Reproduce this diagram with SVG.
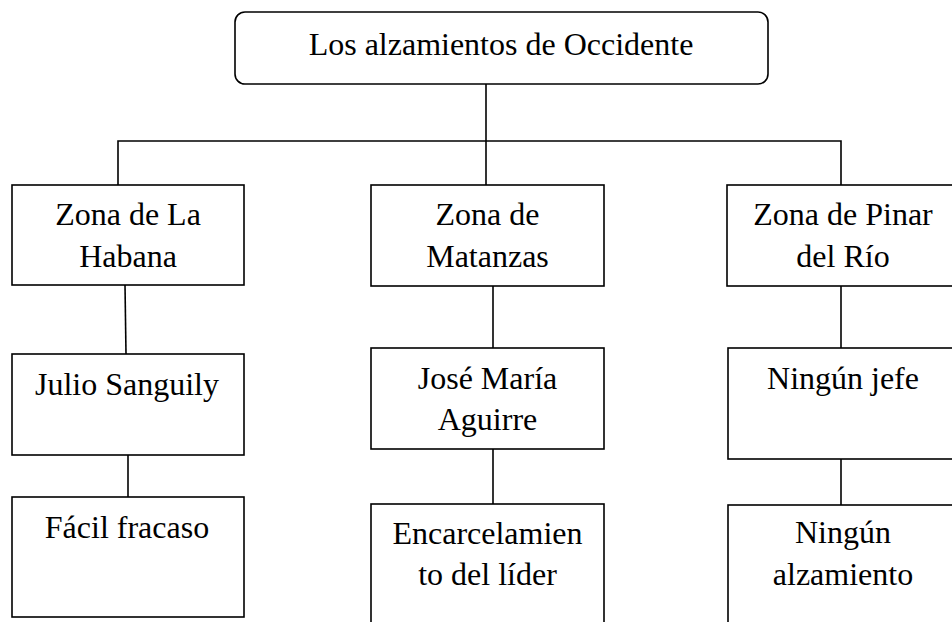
<svg xmlns="http://www.w3.org/2000/svg" width="952" height="622" viewBox="0 0 952 622">
<style>
.box{fill:#fff;stroke:#000;stroke-width:1.6}
.lbl{font-family:'Liberation Serif','Times New Roman',Tinos,'DejaVu Serif',serif;font-size:32px;fill:#000;text-anchor:middle}
.con{fill:none;stroke:#000;stroke-width:1.6}
</style>
<rect width="952" height="622" fill="#fff"/>
<g id="connectors">
<path class="con" d="M486 84V185"/>
<path class="con" d="M118 185V141H841V185"/>
<path class="con" d="M125 285L126 354"/>
<path class="con" d="M128 455V497"/>
<path class="con" d="M493 286V348"/>
<path class="con" d="M493 449V504"/>
<path class="con" d="M841 286V348"/>
<path class="con" d="M841 459V505"/>
</g>
<g font-family="Liberation Serif, Times New Roman, serif">
<g id="root">
<rect class="box" x="235" y="12" width="533" height="72" rx="10"/>
<text class="lbl" x="501" y="55">Los alzamientos de Occidente</text>
</g>
<g id="habana">
<rect class="box" x="12" y="185" width="232" height="100"/>
<text class="lbl" x="128" y="225">Zona de La</text>
<text class="lbl" x="128" y="267">Habana</text>
</g>
<g id="matanzas">
<rect class="box" x="371" y="185" width="233" height="101"/>
<text class="lbl" x="487.5" y="225">Zona de</text>
<text class="lbl" x="487.5" y="267">Matanzas</text>
</g>
<g id="pinar">
<rect class="box" x="727" y="185" width="232" height="101"/>
<text class="lbl" x="843" y="225">Zona de Pinar</text>
<text class="lbl" x="843" y="267">del Río</text>
</g>
<g id="julio">
<rect class="box" x="12" y="354" width="232" height="101"/>
<text class="lbl" x="127" y="395">Julio Sanguily</text>
</g>
<g id="jose">
<rect class="box" x="371" y="348" width="233" height="101"/>
<text class="lbl" x="487.5" y="389">José María</text>
<text class="lbl" x="487.5" y="430">Aguirre</text>
</g>
<g id="ningunjefe">
<rect class="box" x="728" y="348" width="232" height="111"/>
<text class="lbl" x="843" y="389">Ningún jefe</text>
</g>
<g id="facil">
<rect class="box" x="12" y="497" width="232" height="120"/>
<text class="lbl" x="127" y="538">Fácil fracaso</text>
</g>
<g id="encarcel">
<rect class="box" x="371" y="504" width="233" height="130"/>
<text class="lbl" x="487.5" y="544">Encarcelamien</text>
<text class="lbl" x="487.5" y="585">to del líder</text>
</g>
<g id="ningunalz">
<rect class="box" x="728" y="505" width="232" height="130"/>
<text class="lbl" x="843" y="543">Ningún</text>
<text class="lbl" x="843" y="585">alzamiento</text>
</g>
</g>
</svg>
